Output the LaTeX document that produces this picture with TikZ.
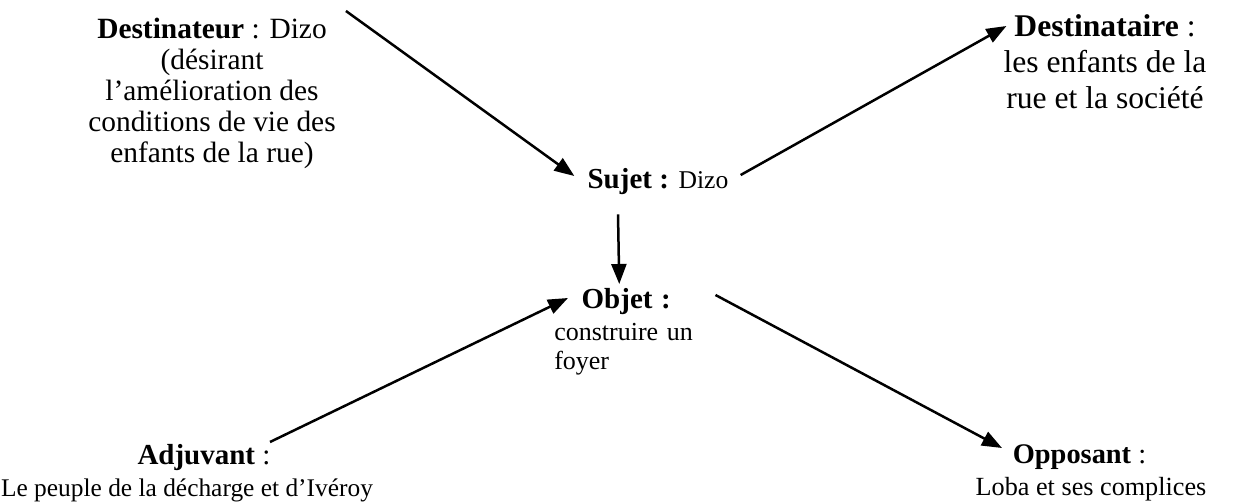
\documentclass[tikz,border=0pt]{standalone}
\usepackage{fontspec}
\setmainfont{Liberation Serif}
\usetikzlibrary{arrows.meta}

\begin{document}
\begin{tikzpicture}[x=0.5pt,y=-0.5pt,>={Triangle[length=10pt,width=7.5pt]},line width=1.25pt,
   actant/.style={inner sep=0pt,align=center}]
   \useasboundingbox (0,0) rectangle (1256,502);

   \node[actant,anchor=north,font=\fontsize{14.7}{15.5}\selectfont] (dest) at (212,17)
      {\textbf{Destinateur} : Dizo\\(désirant\\l’amélioration des\\conditions de vie des\\enfants de la rue)};
   \node[actant,anchor=north,font=\fontsize{15.8}{18}\selectfont] (destaire) at (1105,13)
      {\textbf{Destinataire} :\\les enfants de la\\rue et la société};
   \node[actant,anchor=base] (sujet) at (658,189)
      {\fontsize{14.5}{16}\selectfont\textbf{Sujet :} {\fontsize{12.8}{15}\selectfont Dizo}};
   \node[actant,anchor=north west,text width=72pt,align=left,font=\fontsize{13}{14.5}\selectfont] (objet) at (553,287)
      {{\centering\fontsize{14.5}{16}\selectfont\textbf{Objet :}\par}\vspace*{1.5pt}construire un\hspace*{\fill}\\foyer\hspace*{\fill}};
   \node[actant,anchor=north,font=\fontsize{12.7}{16}\selectfont] (adj) at (187,443)
      {\hspace*{17pt}{\fontsize{14.5}{16}\selectfont\textbf{Adjuvant} :}\\Le peuple de la décharge et d’Ivéroy};
   \node[actant,anchor=north,font=\fontsize{13.1}{16}\selectfont] (opp) at (1091,443)
      {{\fontsize{14.2}{16}\selectfont\textbf{Opposant} :}\hspace*{11.5pt}\\Loba et ses complices};

   \path[->]
      ([xshift=4.5pt,yshift=3pt]dest.north east) edge ([xshift=-6pt,yshift=3pt]sujet.west)
      ([xshift=5.5pt,yshift=3.5pt]sujet.east) edge ([xshift=2pt,yshift=-6.5pt]destaire.north west)
      ([xshift=-20pt,yshift=-9pt]sujet.south) edge ([xshift=-3.5pt,yshift=1.5pt]objet.north)
      ([xshift=41.5pt,yshift=0.5pt]adj.north) edge ([xshift=7.5pt,yshift=-5.5pt]objet.north west)
      ([xshift=8pt,yshift=-4pt]objet.north east) edge ([xshift=-44.5pt,yshift=-2.5pt]opp.north);
\end{tikzpicture}
\end{document}
